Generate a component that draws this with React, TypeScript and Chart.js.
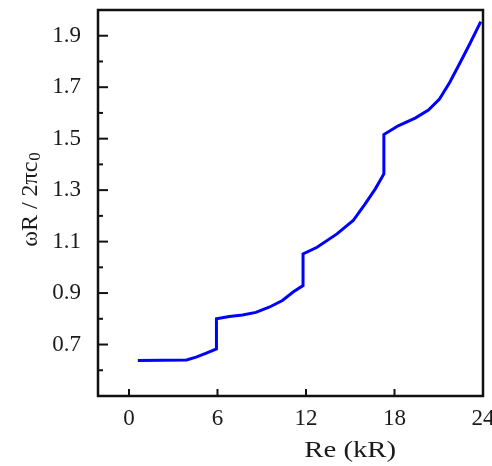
import React, { useEffect, useRef } from "react";
import { Chart, registerables } from "chart.js";

Chart.register(...registerables);

const reValues = [0.6, 3.9, 4.55, 5.2, 5.93, 5.93, 6.8, 7.7, 8.6, 9.5, 10.4, 11.15, 11.8, 11.8, 12.75, 14.1, 15.2, 16.0, 16.7, 17.28, 17.28, 18.25, 19.4, 20.3, 21.05, 21.75, 22.4, 23.1, 23.85];
const freqValues = [0.638, 0.64, 0.651, 0.666, 0.683, 0.8, 0.809, 0.815, 0.825, 0.845, 0.871, 0.905, 0.929, 1.052, 1.078, 1.13, 1.182, 1.246, 1.305, 1.363, 1.516, 1.55, 1.58, 1.611, 1.654, 1.719, 1.79, 1.868, 1.955];

const xTickValues = [0, 6, 12, 18, 24];
const yMajorTicks = [0.7, 0.9, 1.1, 1.3, 1.5, 1.7, 1.9];
const yMinorTicks = [0.6, 0.8, 1.0, 1.2, 1.4, 1.6, 1.8];

const xTitle = "Re (kR)";
const yTitleMain = "ωR / 2πc";
const yTitleSub = "0";

const FONT = "'Liberation Serif', 'Times New Roman', serif";
const TEXT = "#1a1a1a";

const decorPlugin = {
  id: "decor",
  afterDraw(chart: any) {
    const { ctx, chartArea } = chart;
    const xs = chart.scales.x;
    const ys = chart.scales.y;
    ctx.save();
    ctx.strokeStyle = "#111";
    ctx.lineWidth = 2.5;
    ctx.strokeRect(chartArea.left, chartArea.top, chartArea.right - chartArea.left, chartArea.bottom - chartArea.top);
    ctx.lineWidth = 2;
    ys.ticks.forEach((t: any) => {
      const py = ys.getPixelForValue(t.value);
      const major = yMajorTicks.some((v) => Math.abs(v - t.value) < 1e-6);
      ctx.beginPath();
      ctx.moveTo(chartArea.left, py);
      ctx.lineTo(chartArea.left + (major ? 10 : 5), py);
      ctx.stroke();
    });
    xs.ticks.forEach((t: any) => {
      const px = xs.getPixelForValue(t.value);
      ctx.beginPath();
      ctx.moveTo(px, chartArea.bottom);
      ctx.lineTo(px, chartArea.bottom - 7);
      ctx.stroke();
    });
    ctx.fillStyle = TEXT;
    ctx.textBaseline = "alphabetic";
    // x title (slightly widened like the reference)
    const xtX = chartArea.left + (chartArea.right - chartArea.left) * 0.655;
    ctx.save();
    ctx.translate(xtX, 457);
    ctx.scale(1.2, 1);
    ctx.font = `24px ${FONT}`;
    ctx.textAlign = "center";
    ctx.fillText(xTitle, 0, 0);
    ctx.restore();
    // y title rotated
    ctx.translate(37, 200);
    ctx.rotate(-Math.PI / 2);
    ctx.font = `24px ${FONT}`;
    const wMain = ctx.measureText(yTitleMain).width;
    ctx.font = `17px ${FONT}`;
    const wSub = ctx.measureText(yTitleSub).width;
    const start = -(wMain + wSub) / 2;
    ctx.textAlign = "left";
    ctx.font = `24px ${FONT}`;
    ctx.fillText(yTitleMain, start, 0);
    ctx.font = `17px ${FONT}`;
    ctx.fillText(yTitleSub, start + wMain + 1, 3);
    ctx.restore();
  },
};

const zeroPad = (s: any) => {
  s.paddingTop = 0;
  s.paddingBottom = 0;
  s.paddingLeft = 0;
  s.paddingRight = 0;
};

export default function App() {
  const ref = useRef<HTMLCanvasElement | null>(null);
  useEffect(() => {
    document.body.style.margin = "0";
    const canvas = ref.current!;
    const chart = new Chart(canvas, {
      type: "line",
      data: {
        datasets: [
          {
            data: reValues.map((x, i) => ({ x, y: freqValues[i] })),
            borderColor: "#0000ff",
            borderWidth: 3,
            pointRadius: 0,
            tension: 0,
            fill: false,
          },
        ],
      },
      options: {
        animation: false,
        responsive: false,
        maintainAspectRatio: false,
        layout: { padding: { top: 10, right: 9, left: 0, bottom: 0 } },
        plugins: { legend: { display: false }, tooltip: { enabled: false }, title: { display: false } },
        scales: {
          x: {
            type: "linear",
            min: -2.1,
            max: 24,
            afterBuildTicks: (s: any) => {
              s.ticks = xTickValues.map((v) => ({ value: v }));
            },
            afterFit: (s: any) => {
              s.height = 70;
              zeroPad(s);
            },
            grid: { display: false, drawTicks: false },
            border: { display: false },
            ticks: {
              padding: 9,
              color: TEXT,
              font: { family: FONT, size: 23 },
              maxRotation: 0,
              autoSkip: false,
              callback: (v: any) => String(v),
            },
          },
          y: {
            type: "linear",
            min: 0.5,
            max: 2.0,
            afterBuildTicks: (s: any) => {
              s.ticks = [...yMinorTicks, ...yMajorTicks].sort((a, b) => a - b).map((v) => ({ value: v }));
            },
            afterFit: (s: any) => {
              s.width = 98;
              zeroPad(s);
            },
            grid: { display: false, drawTicks: false },
            border: { display: false },
            ticks: {
              padding: 17,
              color: TEXT,
              font: { family: FONT, size: 23 },
              autoSkip: false,
              callback: (v: any) => (yMajorTicks.some((m) => Math.abs(m - v) < 1e-6) ? Number(v).toFixed(1) : ""),
            },
          },
        },
      },
      plugins: [decorPlugin],
    });
    return () => chart.destroy();
  }, []);
  return (
    <div style={{ position: "absolute", left: 0, top: 0, width: 492, height: 466 }}>
      <canvas ref={ref} width={492} height={466} style={{ width: 492, height: 466, display: "block" }} />
    </div>
  );
}
